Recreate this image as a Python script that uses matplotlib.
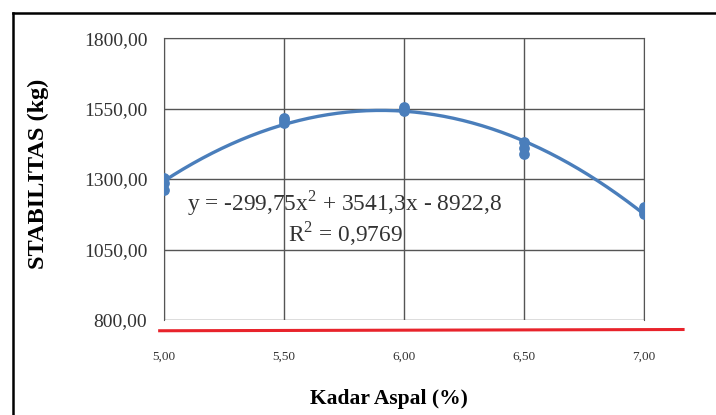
import matplotlib.pyplot as plt
import numpy as np

kadar = [5.0, 5.0, 5.0, 5.5, 5.5, 5.5, 6.0, 6.0, 6.0, 6.5, 6.5, 6.5, 7.0, 7.0, 7.0]
stabilitas = [1305, 1285, 1262, 1518, 1510, 1500, 1556, 1548, 1540,
              1432, 1410, 1388, 1200, 1188, 1176]
xticks = [5.0, 5.5, 6.0, 6.5, 7.0]
yticks = [800, 1050, 1300, 1550, 1800]
eq_text = "y = -299,75x$^2$ + 3541,3x - 8922,8"
r2_text = "R$^2$ = 0,9769"

plt.rcParams['font.family'] = ['Liberation Serif', 'DejaVu Serif']
plt.rcParams['mathtext.fontset'] = 'custom'
plt.rcParams['mathtext.rm'] = 'Liberation Serif'

fig = plt.figure(figsize=(7.16, 4.15), dpi=100)
ax = fig.add_axes([0.229, 0.229, 0.670, 0.679])

blue = "#4a7ebb"
coef = np.polyfit(kadar, stabilitas, 2)
xs = np.linspace(5.0, 7.0, 200)
ax.plot(xs, np.polyval(coef, xs), color=blue, lw=2.4, zorder=3)
ax.scatter(kadar, stabilitas, s=45, color=blue, zorder=4)

ax.set_xlim(5.0, 7.0)
ax.set_ylim(800, 1800)
ax.set_xticks(xticks)
ax.set_yticks(yticks)
ax.set_xticklabels(["{:.2f}".format(v).replace(".", ",") for v in xticks], fontsize=9.5, color="#333333")
ax.set_yticklabels(["{:.2f}".format(v).replace(".", ",") for v in yticks], fontsize=14, color="#333333")
ax.tick_params(length=0)
ax.tick_params(axis="x", pad=22)
ax.tick_params(axis="y", pad=12)
ax.grid(True, color="#555555", lw=1.0)
ax.set_axisbelow(True)
for side in ["top", "right", "left"]:
    ax.spines[side].set_color("#555555")
ax.spines["bottom"].set_visible(False)

ax.text(0.048, 0.39, eq_text, transform=ax.transAxes, fontsize=16.8, color="#333333")
ax.text(0.258, 0.28, r2_text, transform=ax.transAxes, fontsize=16.8, color="#333333")

ax.set_ylabel("STABILITAS (kg)", fontsize=17.5, fontweight="bold")
ax.yaxis.set_label_coords(-0.24, 0.52)
ax.set_xlabel("Kadar Aspal (%)", fontsize=15.5, fontweight="bold")
ax.xaxis.set_label_coords(0.469, -0.245)

# red base line below the plot area
fig.add_artist(plt.Line2D([0.223, 0.954], [0.203, 0.206], color="#e8232b", lw=2.2,
                          transform=fig.transFigure))
# outer chart frame
fig.add_artist(plt.Line2D([0.018, 1.0], [0.969, 0.969], color="black", lw=1.8,
                          transform=fig.transFigure))
fig.add_artist(plt.Line2D([0.018, 0.018], [0.0, 0.969], color="black", lw=1.8,
                          transform=fig.transFigure))

fig.savefig("out.png", dpi=100)
